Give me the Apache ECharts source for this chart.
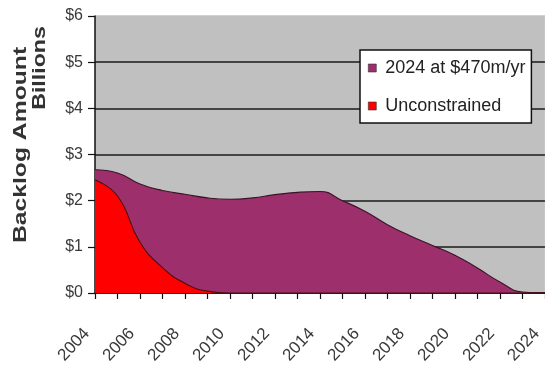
<!DOCTYPE html>
<html>
<head>
<meta charset="utf-8">
<script src="https://cdn.jsdelivr.net/npm/echarts@6/dist/echarts.min.js"></script>
<style>
  html, body { margin: 0; padding: 0; background: #ffffff; }
  #chart { width: 545px; height: 369px; }
</style>
</head>
<body>
<div id="chart"></div>
<script>
// Years on the category axis
const years = ['2004','2005','2006','2007','2008','2009','2010','2011','2012','2013','2014',
               '2015','2016','2017','2018','2019','2020','2021','2022','2023','2024'];

// Backlog ($ billions) when funded at $470m per year, cleared by 2024
const backlog470 = [2.67, 2.60, 2.36, 2.22, 2.14, 2.06, 2.03, 2.06, 2.13, 2.18, 2.20,
                    2.00, 1.77, 1.48, 1.24, 1.03, 0.82, 0.54, 0.24, 0.02, 0.00];

// Backlog ($ billions) with unconstrained funding
const unconstrained = [2.45, 2.10, 1.10, 0.55, 0.21, 0.04, 0.00, 0.00, 0.00, 0.00, 0.00,
                       0.00, 0.00, 0.00, 0.00, 0.00, 0.00, 0.00, 0.00, 0.00, 0.00];

const seriesNames = ['2024 at $470m/yr', 'Unconstrained'];
const yTicks = [0, 1, 2, 3, 4, 5, 6];

const FONT = '"Liberation Sans", Arial, sans-serif';
const chart = echarts.init(document.getElementById('chart'), null, { renderer: 'canvas' });

chart.setOption({
  animation: false,
  backgroundColor: '#ffffff',
  grid: {
    left: 95, top: 16, width: 454, height: 277,
    show: true, backgroundColor: '#c0c0c0', borderWidth: 0
  },
  legend: {
    orient: 'vertical',
    left: 360, top: 50,
    backgroundColor: '#ffffff',
    borderColor: '#111111',
    borderWidth: 1.5,
    borderRadius: 0,
    padding: [9, 6, 8, 8],
    itemGap: 20,
    itemWidth: 8, itemHeight: 8,
    icon: 'rect',
    itemStyle: { borderColor: '#333333', borderWidth: 0.6 },
    textStyle: { fontFamily: FONT, fontSize: 18, color: '#222222', padding: [0, 0, 0, 4] },
    data: seriesNames
  },
  graphic: [
    {
      type: 'text', x: 21, y: 145, rotation: Math.PI / 2, scaleX: 1.3,
      style: { text: 'Backlog Amount', font: 'bold 19px ' + FONT, fill: '#333333',
               align: 'center', verticalAlign: 'middle' }
    },
    {
      type: 'text', x: 40, y: 68, rotation: Math.PI / 2, scaleX: 1.22,
      style: { text: 'Billions', font: 'bold 19px ' + FONT, fill: '#333333',
               align: 'center', verticalAlign: 'middle' }
    }
  ],
  xAxis: {
    type: 'category',
    data: years,
    boundaryGap: false,
    axisLine: { show: true, lineStyle: { color: '#111111', width: 1.5 } },
    axisTick: { show: true, interval: 0, length: 6, lineStyle: { color: '#111111', width: 1.2 } },
    axisLabel: {
      interval: 1, rotate: 47, margin: 29,
      padding: [0, 12, 0, 0],
      fontFamily: FONT, fontSize: 17, color: '#3a3a3a'
    },
    splitLine: { show: false }
  },
  yAxis: {
    type: 'value',
    min: yTicks[0], max: yTicks[yTicks.length - 1], interval: 1,
    axisLine: { show: true, lineStyle: { color: '#111111', width: 1.5 } },
    axisTick: { show: true, length: 7, lineStyle: { color: '#111111', width: 1.2 } },
    axisLabel: {
      margin: 12, fontFamily: FONT, fontSize: 16, color: '#3a3a3a',
      formatter: v => '$' + v
    },
    splitLine: {
      show: true,
      lineStyle: {
        color: ['#1a1a1a', '#1a1a1a', '#1a1a1a', '#1a1a1a', '#1a1a1a', '#1a1a1a', '#c0c0c0'],
        width: 1.5
      }
    }
  },
  series: [
    {
      name: seriesNames[0],
      type: 'line',
      data: backlog470,
      smooth: 0.5,
      showSymbol: false,
      itemStyle: { color: '#9d2f6c' },
      lineStyle: { color: '#3a1426', width: 1.1 },
      areaStyle: { color: '#9d2f6c', opacity: 1 }
    },
    {
      name: seriesNames[1],
      type: 'line',
      data: unconstrained,
      smooth: 0.5,
      showSymbol: false,
      itemStyle: { color: '#fe0000' },
      lineStyle: { color: '#4a1010', width: 1.1 },
      areaStyle: { color: '#fe0000', opacity: 1 }
    }
  ]
});
</script>
</body>
</html>
